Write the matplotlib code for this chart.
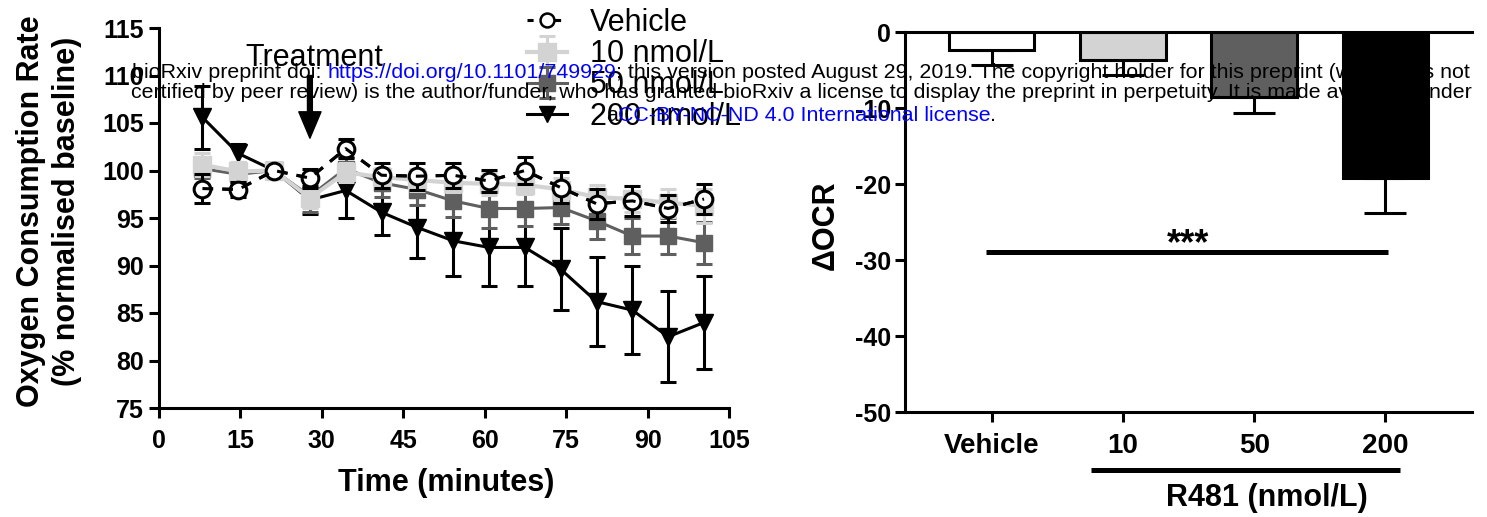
import matplotlib
matplotlib.use('Agg')
import matplotlib.pyplot as plt
from matplotlib.lines import Line2D
import numpy as np

# Seahorse time course, % of the 3rd (baseline) measurement
minutes = [8.0, 14.6, 21.2, 27.8, 34.4, 41.0, 47.6, 54.2, 60.8, 67.4, 74.0, 80.6, 87.2, 93.8, 100.4]
vehicle = [98.1, 98.0, 100.0, 99.2, 102.3, 99.5, 99.4, 99.5, 98.9, 100.0, 98.2, 96.5, 96.8, 96.0, 97.0]
vehicle_err = [1.5, 0.8, 0.0, 1.0, 1.0, 1.3, 1.4, 1.3, 1.2, 1.4, 1.6, 1.6, 1.6, 1.4, 1.6]
nm10 = [100.6, 99.9, 100.0, 97.1, 99.8, 99.3, 99.0, 98.7, 98.6, 98.5, 98.0, 97.2, 97.0, 96.6, 96.3]
nm10_err = [1.2, 1.0, 0.0, 1.0, 1.0, 1.0, 1.2, 1.0, 1.2, 1.0, 1.2, 1.3, 1.4, 1.5, 1.8]
nm50 = [100.2, 99.6, 100.0, 97.3, 100.2, 98.7, 98.0, 96.8, 96.0, 96.0, 96.1, 94.7, 93.1, 93.1, 92.4]
nm50_err = [1.0, 1.0, 0.0, 1.7, 1.2, 1.5, 1.6, 1.7, 2.1, 1.8, 1.7, 1.9, 1.9, 1.9, 2.2]
nm200 = [105.6, 101.8, 100.0, 96.9, 97.9, 95.6, 94.0, 92.6, 91.9, 91.9, 89.6, 86.2, 85.3, 82.5, 84.0]
nm200_err = [3.3, 1.0, 0.0, 1.5, 2.9, 2.4, 3.2, 3.7, 4.1, 4.1, 4.3, 4.7, 4.6, 4.8, 4.9]

# change in OCR at the end of the run
groups = ['Vehicle', '10', '50', '200']
delta_ocr = [-2.4, -3.7, -8.5, -19.2]
delta_err = [1.9, 2.0, 2.2, 4.6]
bar_colors = ['white', '#d3d3d3', '#5f5f5f', 'black']

plt.rcParams['font.family'] = ['Liberation Sans', 'DejaVu Sans']
plt.rcParams['font.weight'] = 'bold'
plt.rcParams['axes.unicode_minus'] = False

W, H = 1487, 517
fig = plt.figure(figsize=(W / 100, H / 100), dpi=100)


def px_axes(left, top, right, bottom):
    return fig.add_axes([left / W, 1 - bottom / H, (right - left) / W, (bottom - top) / H])


LW = 2.2
dash = (0, (3.5, 3))

# ---- left: time course ----
ax1 = px_axes(159, 28, 729, 408)

ax1.errorbar(minutes, nm200, yerr=nm200_err, color='black', marker='v', ms=13,
             lw=LW, elinewidth=LW, capsize=6, capthick=LW, zorder=2)
h50 = ax1.errorbar(minutes, nm50, yerr=nm50_err, color='#5f5f5f', marker='s', ms=12,
                   lw=LW, elinewidth=LW, capsize=6, capthick=LW, zorder=3)
h10 = ax1.errorbar(minutes, nm10, yerr=nm10_err, color='#d3d3d3', marker='s', ms=13,
                   lw=3, elinewidth=LW, capsize=6, capthick=LW, zorder=4)
ax1.errorbar(minutes, vehicle, yerr=vehicle_err, color='black', marker='o', ms=12,
             mfc='white', mec='black', mew=LW, ls=dash, lw=LW,
             elinewidth=LW, capsize=6, capthick=LW, zorder=5)
# dashed connector drawn over the open circles
ax1.plot(minutes, vehicle, color='black', ls=dash, lw=LW, zorder=6)

ax1.set_xlim(0, 105)
ax1.set_ylim(75, 115)
ax1.set_xticks(range(0, 106, 15))
ax1.set_yticks(range(75, 116, 5))
for s in ['top', 'right']:
    ax1.spines[s].set_visible(False)
for s in ['left', 'bottom']:
    ax1.spines[s].set_linewidth(LW)
ax1.tick_params(axis='both', width=LW, length=7, labelsize=18)
ax1.tick_params(axis='x', pad=8)
ax1.tick_params(axis='y', pad=4)

ax1.annotate('', xy=(27.8, 103.4), xytext=(27.8, 110.0),
             arrowprops=dict(facecolor='black', edgecolor='black', width=3.5,
                             headwidth=16, headlength=19, shrink=0))
ax1.text(28.7, 111.8, 'Treatment', ha='center', va='center', fontsize=22, fontweight='normal')

veh_key = Line2D([], [], color='black', ls=(0, (2, 2.5)), lw=LW, marker='o', ms=10,
                 mfc='white', mec='black', mew=1.8)
key200 = Line2D([], [], color='black', lw=LW, marker='v', ms=12)
ax1.legend([veh_key, h10, h50, key200], ['Vehicle', '10 nmol/L', '50 nmol/L', '200 nmol/L'],
           loc='upper left', bbox_to_anchor=(527 / W, 1 - 8 / H),
           bbox_transform=fig.transFigure, frameon=False,
           prop={'size': 22, 'weight': 'normal'}, labelspacing=0.04,
           handlelength=1.3, handletextpad=0.75, borderpad=0, borderaxespad=0)

fig.text(49 / W, 1 - 211 / H, 'Oxygen Consumption Rate\n(% normalised baseline)',
         rotation=90, ha='center', va='center', fontsize=22, linespacing=1.28,
         multialignment='center')
fig.text(446 / W, 1 - 483 / H, 'Time (minutes)', ha='center', va='center', fontsize=22)

# ---- right: delta OCR bars ----
ax2 = px_axes(905, 32, 1472, 412)
pos = np.arange(len(groups))
ax2.errorbar(pos, delta_ocr, yerr=[delta_err, [0] * len(groups)], fmt='none',
             ecolor='black', elinewidth=LW, capsize=15, capthick=LW, zorder=1)
ax2.bar(pos, delta_ocr, width=0.65, color=bar_colors, edgecolor='black', linewidth=LW, zorder=2)

ax2.set_xlim(-0.66, 3.66)
ax2.set_ylim(-50, 0)
ax2.set_yticks(range(-50, 1, 10))
ax2.set_xticks(pos, groups)
ax2.spines['right'].set_visible(False)
for s in ['top', 'left', 'bottom']:
    ax2.spines[s].set_linewidth(LW)
ax2.tick_params(axis='x', width=LW, length=7, pad=8, labelsize=20)
ax2.tick_params(axis='y', width=LW, length=7, pad=3, labelsize=18)

ax2.plot([-0.04, 3.02], [-28.9, -28.9], color='black', lw=3.6, solid_capstyle='butt')
ax2.text(1.5, -29.2, '***', ha='center', va='baseline', fontsize=26)

xa = ax2.get_xaxis_transform()
ax2.plot([0.76, 3.11], [-0.153, -0.153], color='black', lw=3.6, transform=xa,
         clip_on=False, solid_capstyle='butt')
ax2.text(2.10, -0.226, 'R481 (nmol/L)', transform=xa, ha='center', va='center', fontsize=22)
fig.text(826 / W, 1 - 225 / H, '\u0394OCR', rotation=90, ha='center', va='center', fontsize=22)

# ---- preprint banner ----
blue = '#0000ff'
banner = [
    (78, [('bioRxiv preprint doi: ', 'black'), ('https://doi.org/10.1101/749929', blue),
          ('; this version posted August 29, 2019. The copyright holder for this preprint (which was not', 'black')]),
    (98, [('certified by peer review) is the author/funder, who has granted bioRxiv a license to display '
           'the preprint in perpetuity. It is made available under', 'black')]),
    (121, [('a', 'black'), ('CC-BY-NC-ND 4.0 International license', blue), ('.', 'black')]),
]
wm_family = ['Liberation Sans', 'DejaVu Sans']
rend = fig.canvas.get_renderer()


def text_width(s, fs):
    a = fig.text(0, 0, s + '|', fontsize=fs, family=wm_family, fontweight='normal')
    b = fig.text(0, 0, '|', fontsize=fs, family=wm_family, fontweight='normal')
    w = a.get_window_extent(rend).width - b.get_window_extent(rend).width
    a.remove()
    b.remove()
    return w


full1 = ''.join(s for s, _ in banner[0][1])
wm_size = 10 * 1338 / text_width(full1, 10)
x_mid = 801
for base_y, segs in banner:
    total = text_width(''.join(s for s, _ in segs), wm_size)
    x = x_mid - total / 2
    for s, c in segs:
        fig.text(x / W, 1 - base_y / H, s, color=c, fontsize=wm_size, family=wm_family,
                 fontweight='normal', ha='left', va='baseline')
        x += text_width(s, wm_size)

fig.savefig('out.png', dpi=100)
